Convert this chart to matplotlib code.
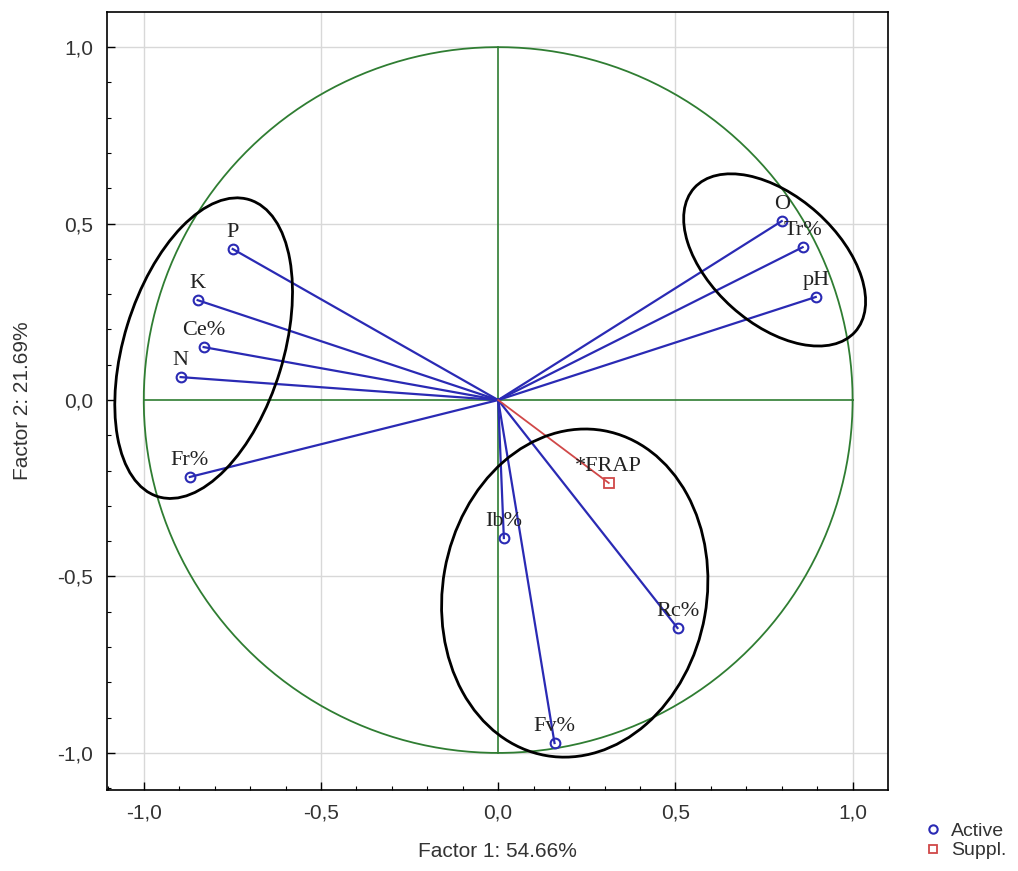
import numpy as np
import matplotlib
matplotlib.use("Agg")
import matplotlib.pyplot as plt
from matplotlib.patches import Ellipse
from matplotlib.ticker import MultipleLocator, FuncFormatter
from matplotlib.lines import Line2D

# Factor loadings (active variables)
active_names = ["O", "Tr%", "pH", "P", "K", "Ce%", "N", "Fr%", "Ib%", "Rc%", "Fv%"]
active_f1 = [0.80, 0.859, 0.896, -0.749, -0.848, -0.831, -0.896, -0.870, 0.016, 0.506, 0.159]
active_f2 = [0.507, 0.433, 0.292, 0.428, 0.283, 0.150, 0.065, -0.218, -0.391, -0.646, -0.972]

# Supplementary variable
suppl_names = ["*FRAP"]
suppl_f1 = [0.312]
suppl_f2 = [-0.235]

# Group ellipses: center x, center y, width, height, angle
ell_cx = [-0.831, 0.78, 0.216]
ell_cy = [0.147, 0.397, -0.547]
ell_w = [0.45, 0.61, 0.745]
ell_h = [0.88, 0.36, 0.935]
ell_ang = [-17, -42, -10]

blue = "#2a2ab4"
red = "#d04848"
green = "#2f7d32"
sans = ["Liberation Sans Narrow", "Liberation Sans", "DejaVu Sans"]
serif = ["Liberation Serif", "DejaVu Serif"]

fig = plt.figure(figsize=(10.18, 8.71), dpi=100)
ax = fig.add_axes([0.105, 0.093, 0.767, 0.893])
ax.set_xlim(-1.104, 1.099)
ax.set_ylim(-1.105, 1.099)

# grid and reference lines
for v in [-1.0, -0.5, 0.5, 1.0]:
    ax.axvline(v, color="#d8d8d8", lw=1, zorder=0)
    ax.axhline(v, color="#d8d8d8", lw=1, zorder=0)
ax.plot([-1, 1], [0, 0], color=green, lw=1.2, zorder=1)
ax.plot([0, 0], [-1, 1], color=green, lw=1.2, zorder=1)
t = np.linspace(0, 2 * np.pi, 400)
ax.plot(np.cos(t), np.sin(t), color=green, lw=1.3, zorder=1)

# vectors
for name, x, y in zip(active_names, active_f1, active_f2):
    ax.plot([0, x], [0, y], color=blue, lw=1.6, zorder=2)
    ax.plot(x, y, "o", mfc="none", mec=blue, ms=7, mew=1.5, zorder=3)
    ax.annotate(name, (x, y), xytext=(0, 5), textcoords="offset points",
                ha="center", va="bottom", fontsize=16, family=serif, color="#222222")
for name, x, y in zip(suppl_names, suppl_f1, suppl_f2):
    ax.plot([0, x], [0, y], color=red, lw=1.3, zorder=2)
    ax.plot(x, y, "s", mfc="none", mec=red, ms=7, mew=1.3, zorder=3)
    ax.annotate(name, (x, y), xytext=(0, 5), textcoords="offset points",
                ha="center", va="bottom", fontsize=16, family=serif, color="#222222")

# group ellipses
for cx, cy, w, h, a in zip(ell_cx, ell_cy, ell_w, ell_h, ell_ang):
    ax.add_patch(Ellipse((cx, cy), w, h, angle=a, fill=False, ec="black", lw=2, zorder=4))

# axes styling
fmt = FuncFormatter(lambda v, p: f"{v:.1f}".replace(".", ",").replace("-0,0", "0,0"))
for axis in (ax.xaxis, ax.yaxis):
    axis.set_major_locator(MultipleLocator(0.5))
    axis.set_minor_locator(MultipleLocator(0.1))
    axis.set_major_formatter(fmt)
ax.tick_params(which="major", direction="in", length=6, width=1, labelsize=15, pad=10)
ax.tick_params(which="minor", direction="in", length=3, width=0.8)
for lab in ax.get_xticklabels() + ax.get_yticklabels():
    lab.set_family(sans)
    lab.set_color("#333333")
for s in ax.spines.values():
    s.set_linewidth(1.2)

ax.set_xlabel("Factor 1: 54.66%", fontsize=15, family=sans, color="#333333", labelpad=14)
ax.set_ylabel("Factor 2: 21.69%", fontsize=15, family=sans, color="#333333", labelpad=18)

handles = [
    Line2D([], [], ls="none", marker="o", mfc="none", mec=blue, ms=6, mew=1.5),
    Line2D([], [], ls="none", marker="s", mfc="none", mec=red, ms=6, mew=1.3),
]
leg = fig.legend(handles, ["Active", "Suppl."], loc="lower right", bbox_to_anchor=(1.0, 0.0),
                 frameon=False, handletextpad=0.3, labelspacing=0.1, handlelength=1.2,
                 borderaxespad=0.2, prop={"family": sans, "size": 14})
for txt in leg.get_texts():
    txt.set_color("#333333")

fig.savefig("out.png", dpi=100)
